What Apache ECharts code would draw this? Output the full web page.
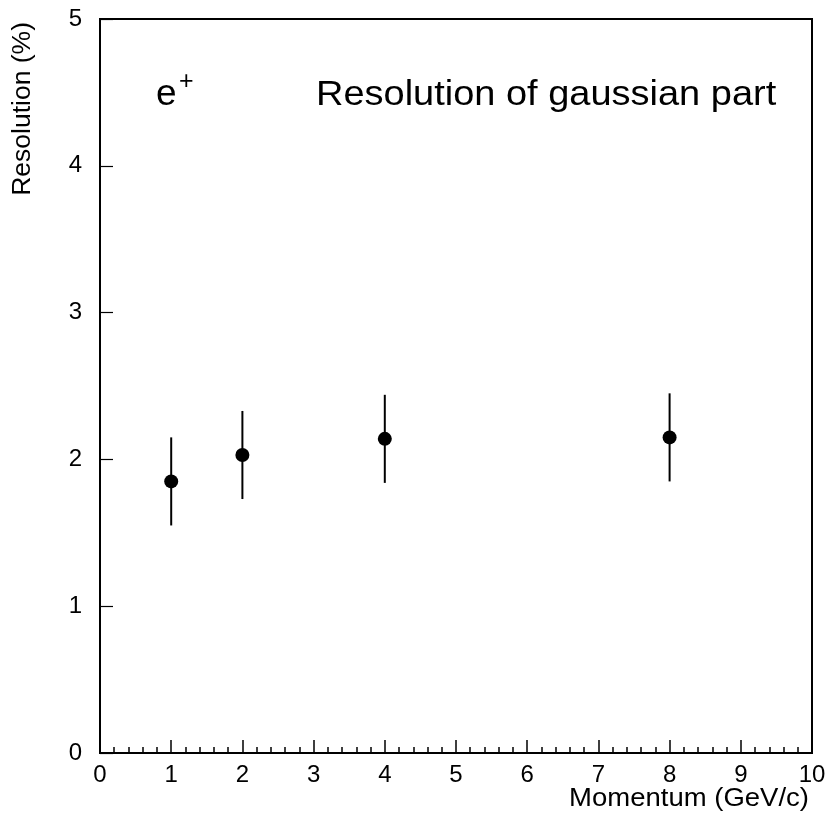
<!DOCTYPE html>
<html>
<head>
<meta charset="utf-8">
<style>
  html, body { margin: 0; padding: 0; background: #fff; }
  #chart { width: 831px; height: 822px; }
</style>
<script src="https://cdn.jsdelivr.net/npm/echarts@6/dist/echarts.min.js"></script>
</head>
<body>
<div id="chart"></div>
<script>
// Momentum points (GeV/c) and measured resolution of the gaussian part (%)
const momentum = [1, 2, 4, 8];
const resolution = [1.85, 2.03, 2.14, 2.15];
const errDown = [0.30, 0.30, 0.30, 0.30];
const errUp = [0.30, 0.30, 0.30, 0.30];

const xTicks = [0, 1, 2, 3, 4, 5, 6, 7, 8, 9, 10];
const yTicks = [0, 1, 2, 3, 4, 5];

const FONT = '"Liberation Sans", Arial, Helvetica, sans-serif';

const points = momentum.map((x, i) => [x, resolution[i]]);
const bars = momentum.map((x, i) => [x, resolution[i] - errDown[i], resolution[i] + errUp[i]]);

const chart = echarts.init(document.getElementById('chart'), null, { renderer: 'canvas' });

chart.setOption({
  animation: false,
  backgroundColor: '#fff',
  grid: {
    left: 100, right: 19, top: 19, bottom: 69,
    show: true, borderColor: '#000', borderWidth: 2, backgroundColor: 'transparent'
  },
  xAxis: {
    type: 'value',
    min: xTicks[0], max: xTicks[xTicks.length - 1], interval: 1,
    axisLine: { show: true, lineStyle: { color: '#000', width: 2 } },
    axisTick: { show: true, inside: true, length: 13, lineStyle: { color: '#000', width: 1.5 } },
    minorTick: { show: true, splitNumber: 5, length: 6, lineStyle: { color: '#000', width: 1.5 } },
    splitLine: { show: false },
    axisLabel: { color: '#000', fontSize: 24, fontFamily: FONT, margin: 10 }
  },
  yAxis: {
    type: 'value',
    min: yTicks[0], max: yTicks[yTicks.length - 1], interval: 1,
    axisLine: { show: true, lineStyle: { color: '#000', width: 2 } },
    axisTick: { show: true, inside: true, length: 13, lineStyle: { color: '#000', width: 1.2 } },
    splitLine: { show: false },
    axisLabel: { color: '#000', fontSize: 24, fontFamily: FONT, margin: 18 }
  },
  series: [
    {
      type: 'custom',
      data: bars,
      renderItem: function (params, api) {
        const top = api.coord([api.value(0), api.value(2)]);
        const bot = api.coord([api.value(0), api.value(1)]);
        return {
          type: 'line',
          shape: { x1: top[0], y1: top[1], x2: bot[0], y2: bot[1] },
          style: { stroke: '#000', lineWidth: 2 }
        };
      },
      z: 2
    },
    {
      type: 'scatter',
      data: points,
      symbol: 'circle',
      symbolSize: 14,
      itemStyle: { color: '#000', opacity: 1 },
      z: 3
    }
  ],
  graphic: [
    {
      type: 'text', x: 156, y: 95,
      style: { text: 'e', font: '37px ' + FONT, fill: '#000', align: 'left', verticalAlign: 'middle' }
    },
    {
      type: 'text', x: 179, y: 82,
      style: { text: '+', font: '25px ' + FONT, fill: '#000', align: 'left', verticalAlign: 'middle' }
    },
    {
      type: 'text', x: 316, y: 95, scaleX: 1.085,
      style: { text: 'Resolution of gaussian part', font: '35px ' + FONT, fill: '#000', align: 'left', verticalAlign: 'middle' }
    },
    {
      type: 'text', x: 809, y: 799, scaleX: 1.1,
      style: { text: 'Momentum (GeV/c)', font: '25px ' + FONT, fill: '#000', align: 'right', verticalAlign: 'middle' }
    },
    {
      type: 'text', x: 23, y: 22, rotation: Math.PI / 2,
      style: { text: 'Resolution (%)', font: '26.5px ' + FONT, fill: '#000', align: 'right', verticalAlign: 'middle' }
    }
  ]
});
</script>
</body>
</html>
